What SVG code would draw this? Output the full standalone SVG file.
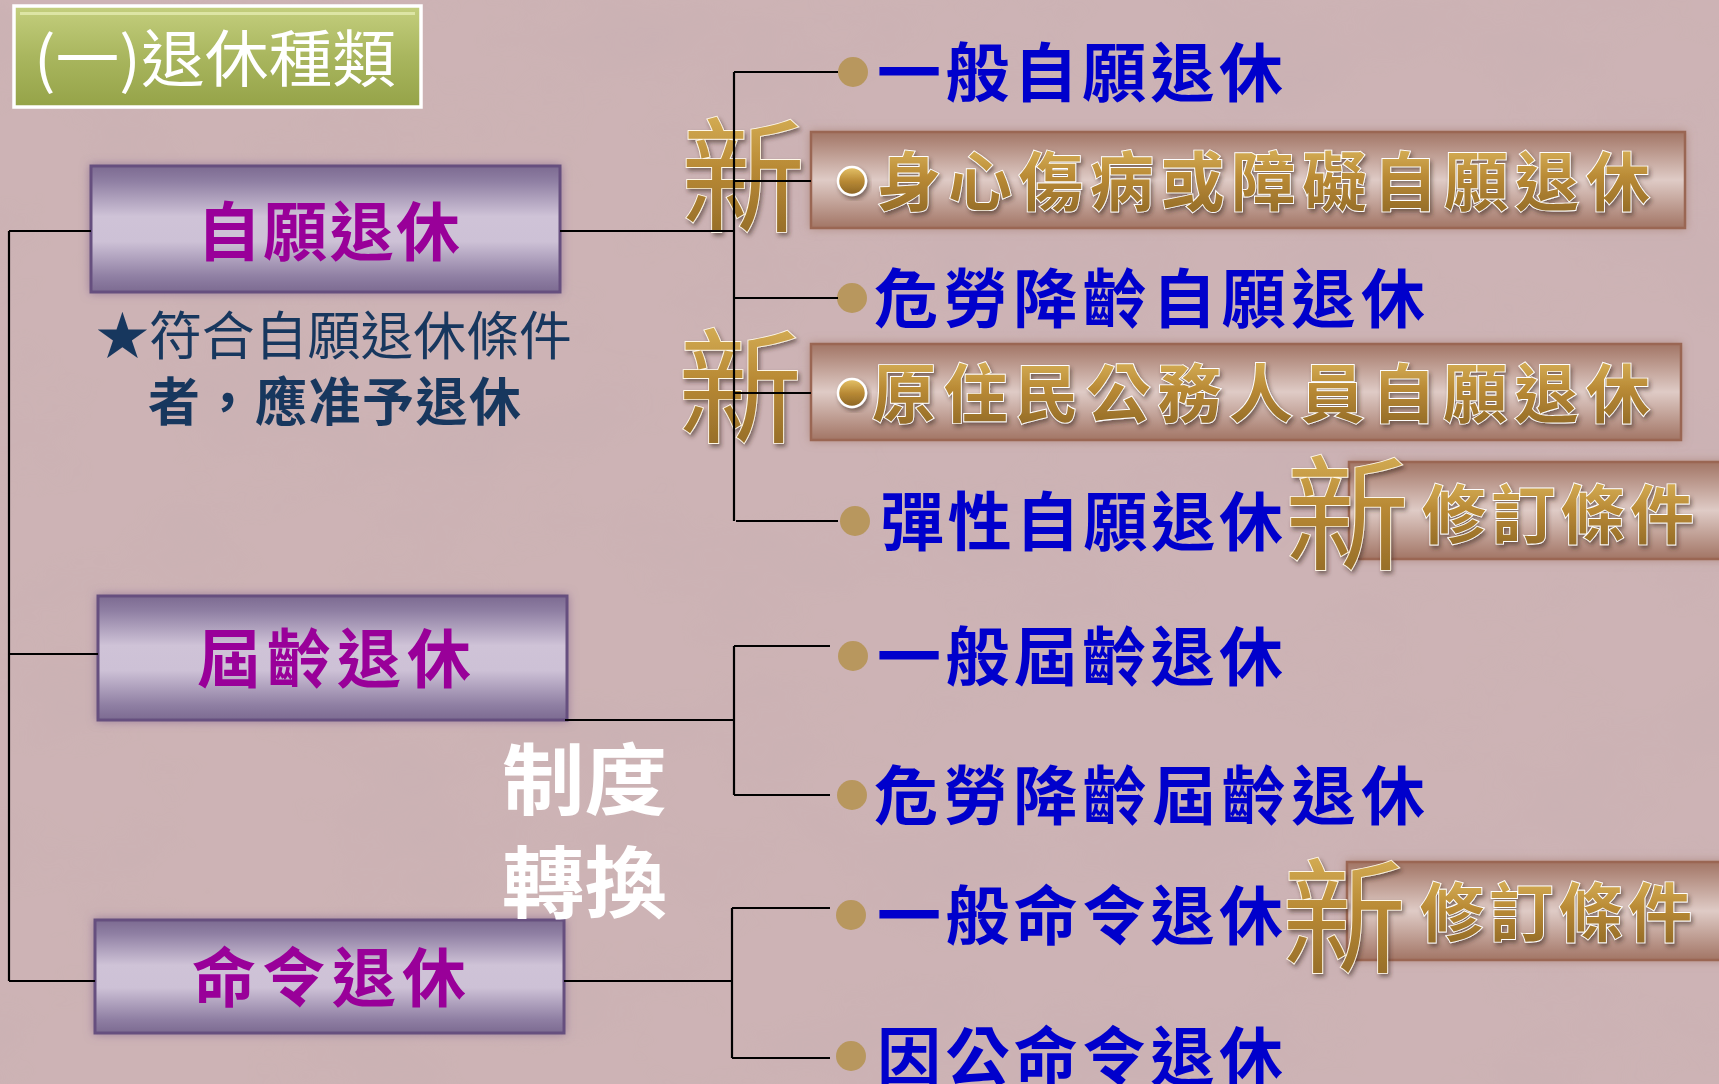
<svg xmlns="http://www.w3.org/2000/svg" width="1719" height="1084" viewBox="0 0 1719 1084">
<defs>
<style>
.cjk{font-family:"Noto Sans CJK TC","Noto Sans CJK SC",sans-serif;}
.blue{fill:#0000cc;font-weight:700;font-size:64px;}
.mag{fill:#990099;font-weight:700;font-size:64px;}
.gold{fill:url(#goldG);stroke:#ffffff;stroke-width:1.8;paint-order:stroke;font-weight:700;font-size:64px;filter:url(#sh);}
.xin{fill:url(#goldG);stroke:#fff8e8;stroke-width:1.8;paint-order:stroke;font-weight:400;font-size:124px;filter:url(#sh);}
.line{stroke:#000;stroke-width:2.2;fill:none;}
.bul{fill:#b8975e;}
.pbox{fill:url(#purG);stroke:#66507f;stroke-width:3;filter:url(#glow);}
.bbox{fill:url(#brnG);stroke:#9a6652;stroke-width:2.5;filter:url(#bsh);}
</style>
<linearGradient id="purG" x1="0" y1="0" x2="0" y2="1">
<stop offset="0" stop-color="#7c6a91"/>
<stop offset="0.12" stop-color="#8f7fa3"/>
<stop offset="0.4" stop-color="#cfc3d7"/>
<stop offset="0.6" stop-color="#cdc1d6"/>
<stop offset="0.88" stop-color="#8f7fa3"/>
<stop offset="1" stop-color="#7c6a91"/>
</linearGradient>
<linearGradient id="brnG" x1="0" y1="0" x2="0" y2="1">
<stop offset="0" stop-color="#a27565"/>
<stop offset="0.5" stop-color="#dfcbc6"/>
<stop offset="1" stop-color="#a27565"/>
</linearGradient>
<linearGradient id="grnG" x1="0" y1="0" x2="0" y2="1">
<stop offset="0" stop-color="#c4cf7e"/>
<stop offset="0.5" stop-color="#a9b65e"/>
<stop offset="1" stop-color="#95a348"/>
</linearGradient>
<linearGradient id="goldG" x1="0" y1="0" x2="0" y2="1">
<stop offset="0" stop-color="#e6c46a"/>
<stop offset="0.5" stop-color="#b98a35"/>
<stop offset="1" stop-color="#8a6425"/>
</linearGradient>
<filter id="sh" x="-20%" y="-20%" width="140%" height="140%">
<feDropShadow dx="2" dy="3" stdDeviation="2" flood-color="#3a2a20" flood-opacity="0.55"/>
</filter>
<filter id="glow" x="-5%" y="-15%" width="110%" height="130%">
<feDropShadow dx="0" dy="0" stdDeviation="5" flood-color="#7a5a8a" flood-opacity="0.6"/>
</filter>
<filter id="bsh" x="-5%" y="-20%" width="110%" height="140%">
<feDropShadow dx="0" dy="0" stdDeviation="5" flood-color="#a07868" flood-opacity="0.6"/>
</filter>
<filter id="tex" x="0" y="0" width="100%" height="100%">
<feTurbulence type="fractalNoise" baseFrequency="0.006 0.01" numOctaves="4" seed="7"/>
<feColorMatrix type="matrix" values="0 0 0 0 0.55  0 0 0 0 0.42  0 0 0 0 0.44  0 0 0 -1.6 0.9"/>
</filter>
</defs>

<rect width="1719" height="1084" fill="#cdb3b5"/>
<rect width="1719" height="1084" filter="url(#tex)" opacity="0.35"/>

<g id="title">
<rect x="14" y="6" width="407" height="101" fill="url(#grnG)" stroke="#ffffff" stroke-width="3.5"/>
<rect x="20" y="12" width="395" height="3" fill="#e4ebb0" opacity="0.8"/>
<text class="cjk" x="34" y="82" font-size="62" fill="#ffffff" textLength="362" lengthAdjust="spacingAndGlyphs">(一)退休種類</text>
</g>

<g id="node-voluntary">
<rect class="pbox" x="91" y="166" width="469" height="126"/>
<text class="cjk mag" x="197" y="255" textLength="263" lengthAdjust="spacing">自願退休</text>
</g>
<g id="note">
<text class="cjk" x="96" y="355" font-size="52" fill="#17375e" textLength="476" lengthAdjust="spacingAndGlyphs">★符合自願退休條件</text>
<text class="cjk" x="148" y="421" font-size="52" font-weight="700" fill="#17375e" textLength="373" lengthAdjust="spacing">者，應准予退休</text>
</g>
<g id="node-age">
<rect class="pbox" x="98" y="596" width="469" height="124"/>
<text class="cjk mag" x="197" y="682" textLength="274" lengthAdjust="spacing">屆齡退休</text>
</g>
<g id="node-order">
<rect class="pbox" x="95" y="920" width="469" height="113"/>
<text class="cjk mag" x="192" y="1001" textLength="274" lengthAdjust="spacing">命令退休</text>
</g>
<g id="transition">
<text class="cjk" x="502" y="809" font-size="78" font-weight="700" fill="#ffffff" textLength="165" lengthAdjust="spacingAndGlyphs">制度</text>
<text class="cjk" x="502" y="912" font-size="78" font-weight="700" fill="#ffffff" textLength="165" lengthAdjust="spacingAndGlyphs">轉換</text>
</g>

<g id="item-general-vol">
<circle class="bul" cx="853" cy="72" r="15"/>
<text class="cjk blue" x="877" y="96" textLength="406" lengthAdjust="spacing">一般自願退休</text>
</g>
<g id="item-illness">
<rect class="bbox" x="811" y="132" width="874" height="96"/>
<circle cx="852" cy="181" r="14" fill="url(#goldG)" stroke="#fff" stroke-width="2.5" filter="url(#sh)"/>
<text class="cjk gold" x="877" y="205" textLength="773" lengthAdjust="spacing">身心傷病或障礙自願退休</text>
</g>
<g id="item-hazard-vol">
<circle class="bul" cx="852" cy="298" r="15"/>
<text class="cjk blue" x="874" y="322" textLength="551" lengthAdjust="spacing">危勞降齡自願退休</text>
</g>
<g id="item-indigenous">
<rect class="bbox" x="811" y="344" width="870" height="96"/>
<circle cx="852" cy="393" r="14" fill="url(#goldG)" stroke="#fff" stroke-width="2.5" filter="url(#sh)"/>
<text class="cjk gold" x="872" y="417" textLength="778" lengthAdjust="spacing">原住民公務人員自願退休</text>
</g>
<g id="item-flex">
<circle class="bul" cx="855" cy="521" r="15"/>
<text class="cjk blue" x="880" y="545" textLength="403" lengthAdjust="spacing">彈性自願退休</text>
</g>
<g id="badge-flex">
<rect class="bbox" x="1349" y="462" width="380" height="97"/>
<text class="cjk gold" x="1422" y="538" font-size="60" textLength="272" lengthAdjust="spacing">修訂條件</text>
</g>
<g id="item-general-age">
<circle class="bul" cx="853" cy="656" r="15"/>
<text class="cjk blue" x="877" y="680" textLength="406" lengthAdjust="spacing">一般屆齡退休</text>
</g>
<g id="item-hazard-age">
<circle class="bul" cx="852" cy="795" r="15"/>
<text class="cjk blue" x="874" y="819" textLength="551" lengthAdjust="spacing">危勞降齡屆齡退休</text>
</g>
<g id="item-general-order">
<circle class="bul" cx="851" cy="915" r="15"/>
<text class="cjk blue" x="877" y="939" textLength="406" lengthAdjust="spacing">一般命令退休</text>
</g>
<g id="badge-order">
<rect class="bbox" x="1347" y="862" width="380" height="98"/>
<text class="cjk gold" x="1420" y="936" font-size="60" textLength="272" lengthAdjust="spacing">修訂條件</text>
</g>
<g id="item-duty-order">
<circle class="bul" cx="851" cy="1056" r="15"/>
<text class="cjk blue" x="877" y="1080" textLength="406" lengthAdjust="spacing">因公命令退休</text>
</g>

<g id="new-labels">
<text class="cjk xin" x="743" y="222" text-anchor="middle">新</text>
<text class="cjk xin" x="740" y="433" text-anchor="middle">新</text>
<text class="cjk xin" x="1347" y="560" text-anchor="middle">新</text>
<text class="cjk xin" x="1344" y="963" text-anchor="middle">新</text>
</g>

<g id="connectors">
<path class="line" d="M9 231 V981 M9 231 H91 M9 654 H98 M9 981 H95"/>
<path class="line" d="M560 231 H734 M734 72 V521 M734 72 H838 M734 181 H811 M734 298 H838 M734 393 H811 M736 521 H838"/>
<path class="line" d="M565 720 H734 M734 646 V795 M734 646 H830 M734 795 H830"/>
<path class="line" d="M564 981 H732 M732 908 V1058 M732 908 H830 M732 1058 H830"/>
</g>
</svg>
